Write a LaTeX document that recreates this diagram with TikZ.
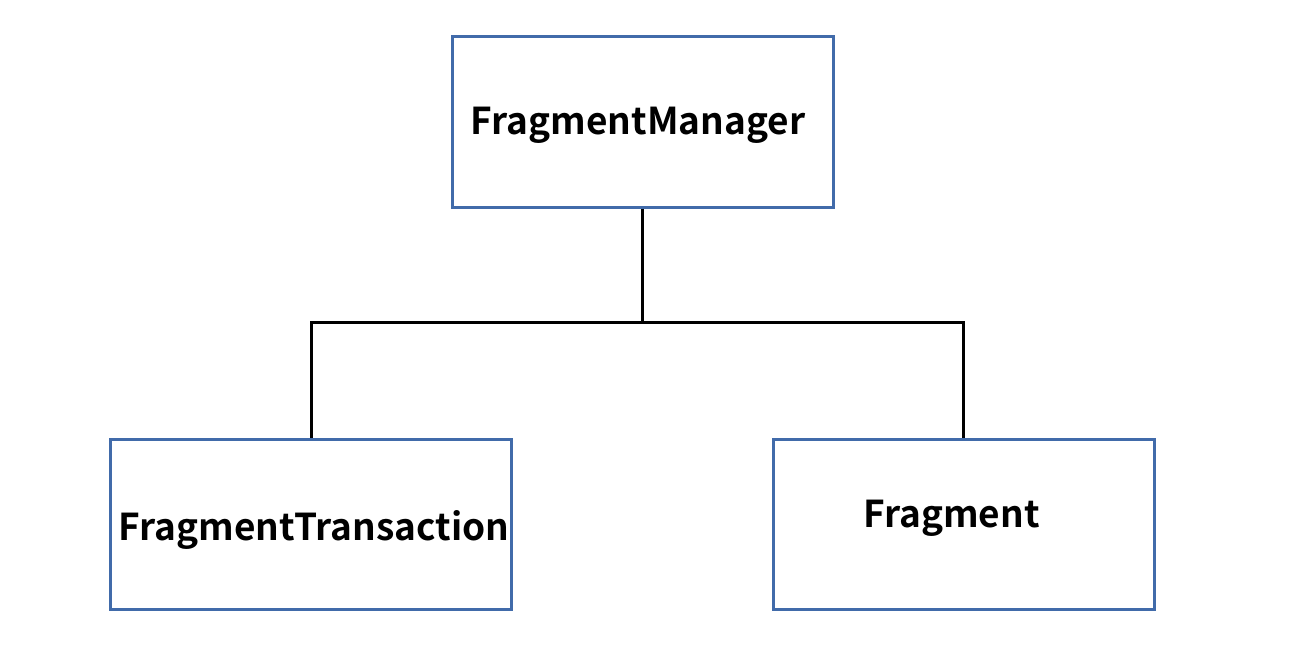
\documentclass[tikz,border=0pt]{standalone}
\usepackage{fontspec}
\setmainfont{Noto Sans CJK SC}[BoldFont={Noto Sans CJK SC Bold}]
\definecolor{boxblue}{RGB}{65,107,170}
\begin{document}
\begin{tikzpicture}[x=1bp,y=-1bp,
  cls/.style={draw=boxblue,line width=3bp,fill=white,inner sep=0pt},
  lbl/.style={anchor=base,inner sep=0pt,font=\fontsize{37bp}{44bp}\selectfont\bfseries},
  conn/.style={draw=black,line width=3bp}]
\useasboundingbox (0,0) rectangle (1294,667);
\node[cls,minimum width=381bp,minimum height=170bp] (fm) at (642.5,122) {};
\node[cls,minimum width=400bp,minimum height=170bp] (ft) at (311,524) {};
\node[cls,minimum width=381bp,minimum height=170bp] (fr) at (963.5,524) {};
\coordinate (j) at (642.5,322);
\node[lbl] (fmt) at (638,135) {FragmentManager};
\node[lbl] (ftt) at (314,540) {FragmentTransaction};
\node[lbl] (frt) at (951.5,527) {Fragment};
\draw[conn] (fm.south) -- (j);
\draw[conn] (ft.north) |- (j) -| (fr.north);
\end{tikzpicture}
\end{document}
